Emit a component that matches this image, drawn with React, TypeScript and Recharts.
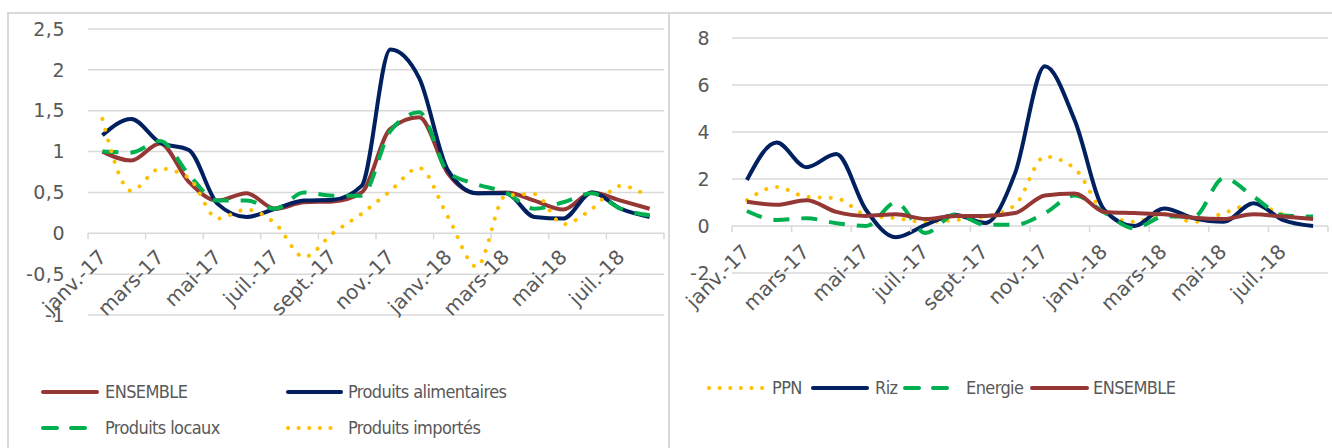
import React from "react";
import { LineChart, Line, XAxis, YAxis, CartesianGrid } from "recharts";

const MONTHS = [
  "janv.-17", "févr.-17", "mars-17", "avr.-17", "mai-17", "juin-17",
  "juil.-17", "août-17", "sept.-17", "oct.-17", "nov.-17", "déc.-17",
  "janv.-18", "févr.-18", "mars-18", "avr.-18", "mai-18", "juin-18",
  "juil.-18", "août-18",
];
const LABEL_TICKS = [0, 2, 4, 6, 8, 10, 12, 14, 16, 18];

// Graphique de gauche
const ENSEMBLE_L = [1.0, 0.89, 1.1, 0.63, 0.4, 0.49, 0.3, 0.38, 0.39, 0.5, 1.28, 1.42, 0.73, 0.49, 0.5, 0.4, 0.29, 0.5, 0.4, 0.3];
const ALIMENTAIRES = [1.2, 1.4, 1.11, 1.02, 0.36, 0.2, 0.3, 0.4, 0.41, 0.58, 2.25, 1.9, 0.77, 0.49, 0.49, 0.2, 0.18, 0.5, 0.3, 0.2];
const LOCAUX = [1.0, 0.99, 1.13, 0.72, 0.4, 0.4, 0.3, 0.5, 0.46, 0.46, 1.25, 1.48, 0.75, 0.6, 0.5, 0.3, 0.38, 0.49, 0.3, 0.22];
const IMPORTES = [1.4, 0.52, 0.79, 0.68, 0.18, 0.29, 0.12, -0.29, 0.0, 0.24, 0.52, 0.8, 0.2, -0.41, 0.46, 0.48, 0.11, 0.3, 0.58, 0.44];
const LEFT_Y_TICKS = [-1, -0.5, 0, 0.5, 1, 1.5, 2, 2.5];

// Graphique de droite
const PPN = [1.1, 1.66, 1.24, 1.18, 0.47, 0.33, 0.17, 0.25, 0.4, 0.89, 2.95, 2.45, 0.57, 0.18, 0.5, 0.17, 0.55, 0.93, 0.5, 0.28];
const RIZ = [1.96, 3.55, 2.5, 3.06, 0.68, -0.48, 0.05, 0.47, 0.13, 2.25, 6.8, 4.5, 0.68, 0.0, 0.75, 0.33, 0.18, 0.97, 0.25, 0.0];
const ENERGIE = [0.64, 0.26, 0.33, 0.12, 0.0, 1.0, -0.3, 0.5, 0.05, 0.05, 0.55, 1.3, 0.57, -0.1, 0.4, 0.4, 2.04, 1.25, 0.45, 0.4];
const ENSEMBLE_R = [1.03, 0.9, 1.1, 0.6, 0.43, 0.5, 0.3, 0.43, 0.43, 0.55, 1.3, 1.38, 0.6, 0.55, 0.5, 0.35, 0.3, 0.5, 0.4, 0.3];
const RIGHT_Y_TICKS = [-2, 0, 2, 4, 6, 8];

const leftData = MONTHS.map((m, i) => ({
  i,
  mois: m,
  ensemble: ENSEMBLE_L[i],
  alimentaires: ALIMENTAIRES[i],
  locaux: LOCAUX[i],
  importes: IMPORTES[i],
}));

const rightData = MONTHS.map((m, i) => ({
  i,
  mois: m,
  ppn: PPN[i],
  riz: RIZ[i],
  energie: ENERGIE[i],
  ensemble: ENSEMBLE_R[i],
}));

const BROWN = "#953735";
const NAVY = "#002060";
const GREEN = "#00B050";
const YELLOW = "#FFC000";
const GRID = "#d9d9d9";
const TEXT = "#595959";
const TICK_FONT = "'DejaVu Sans', sans-serif";
const LEGEND_FONT = "'DejaVu Sans Condensed', 'Liberation Sans Narrow', sans-serif";

const DASH = "16 12";
const DOTS = "0.1 11";

function makeMonthTick(zeroY: number, band: number, dx: number, dy: number) {
  return function MonthTick(props: any) {
    const { x, payload, index } = props;
    const half = band / 2;
    const tx = x + dx;
    const ty = zeroY + dy;
    return (
      <g>
        <line x1={x - half} x2={x - half} y1={zeroY} y2={zeroY + 6} stroke={GRID} strokeWidth={1.5} />
        {index === LABEL_TICKS.length - 1 && (
          <line x1={x + 3 * half} x2={x + 3 * half} y1={zeroY} y2={zeroY + 6} stroke={GRID} strokeWidth={1.5} />
        )}
        <text
          x={tx}
          y={ty}
          transform={`rotate(-45 ${tx} ${ty})`}
          textAnchor="end"
          fill={TEXT}
          fontSize={20}
          fontFamily={TICK_FONT}
        >
          {MONTHS[payload.value]}
        </text>
      </g>
    );
  };
}

const fmt = (v: number) => String(v).replace(".", ",");

type Kind = "solid" | "dash" | "dot";

function LegendItem({ x1, x2, textX, y, kind, color, label }: { x1: number; x2: number; textX: number; y: number; kind: Kind; color: string; label: string }) {
  const w = x2 - x1;
  const dash = kind === "dash" ? "14 14" : kind === "dot" ? "0.1 10.5" : undefined;
  return (
    <>
      <svg width={w + 4} height={10} style={{ position: "absolute", left: x1 - 2, top: y - 5 }}>
        <line x1={2} x2={w + 2} y1={5} y2={5} stroke={color} strokeWidth={4} strokeLinecap="round" strokeDasharray={dash} />
      </svg>
      <span
        style={{
          position: "absolute",
          left: textX,
          top: y - 13,
          lineHeight: "26px",
          fontFamily: LEGEND_FONT,
          fontSize: 18,
          letterSpacing: -0.6,
          color: TEXT,
          whiteSpace: "nowrap",
        }}
      >
        {label}
      </span>
    </>
  );
}

export default function App() {
  const leftTop = 29;
  const leftH = 286;
  const leftZero = leftTop + (leftH * 2.5) / 3.5;
  const rightTop = 38;
  const rightH = 235;
  const rightZero = rightTop + (rightH * 8) / 10;

  const LeftTick = makeMonthTick(leftZero, 576 / 20, 5, 25);
  const RightTick = makeMonthTick(rightZero, 596 / 20, 4, 27);

  return (
    <div
      style={{
        position: "absolute",
        left: 0,
        top: 0,
        width: 1332,
        height: 448,
        background: "#fff",
        overflow: "hidden",
      }}
    >
      <div
        style={{
          position: "absolute",
          left: 7,
          top: 12,
          width: 662,
          height: 450,
          borderLeft: `2px solid ${GRID}`,
          borderTop: `2px solid ${GRID}`,
          boxSizing: "border-box",
        }}
      />
      <div
        style={{
          position: "absolute",
          left: 668,
          top: 12,
          width: 680,
          height: 450,
          borderLeft: `2px solid ${GRID}`,
          borderTop: `2px solid ${GRID}`,
          boxSizing: "border-box",
        }}
      />

      {/* Graphique de gauche */}
      <div style={{ position: "absolute", left: 0, top: 0 }}>
        <LineChart
          width={670}
          height={340}
          data={leftData}
          margin={{ top: leftTop, right: 6, bottom: 5, left: 28 }}
          style={{ overflow: "visible" }}
        >
          <CartesianGrid horizontal vertical={false} stroke={GRID} strokeWidth={1.5} />
          <XAxis
            dataKey="i"
            type="number"
            domain={[-0.5, 19.5]}
            ticks={LABEL_TICKS}
            interval={0}
            height={20}
            axisLine={false}
            tickLine={false}
            tick={<LeftTick />}
          />
          <YAxis
            domain={[-1, 2.5]}
            ticks={LEFT_Y_TICKS}
            interval={0}
            width={60}
            axisLine={false}
            tickLine={false}
            tickSize={0}
            tickMargin={23}
            tickFormatter={fmt}
            tick={{ fill: TEXT, fontSize: 19, fontFamily: TICK_FONT, letterSpacing: 0.5 }}
          />
          <Line type="monotone" dataKey="ensemble" stroke={BROWN} strokeWidth={4} dot={false} isAnimationActive={false} />
          <Line type="monotone" dataKey="alimentaires" stroke={NAVY} strokeWidth={4} dot={false} isAnimationActive={false} />
          <Line type="monotone" dataKey="locaux" stroke={GREEN} strokeWidth={4} strokeDasharray={DASH} dot={false} isAnimationActive={false} />
          <Line type="monotone" dataKey="importes" stroke={YELLOW} strokeWidth={4} strokeDasharray={DOTS} strokeLinecap="round" dot={false} isAnimationActive={false} />
        </LineChart>
      </div>

      {/* Graphique de droite */}
      <div style={{ position: "absolute", left: 670, top: 0 }}>
        <LineChart
          width={662}
          height={340}
          data={rightData}
          margin={{ top: rightTop, right: 4, bottom: 47, left: 2 }}
          style={{ overflow: "visible" }}
        >
          <CartesianGrid horizontal vertical={false} stroke={GRID} strokeWidth={1.5} />
          <XAxis
            dataKey="i"
            type="number"
            domain={[-0.5, 19.5]}
            ticks={LABEL_TICKS}
            interval={0}
            height={20}
            axisLine={false}
            tickLine={false}
            tick={<RightTick />}
          />
          <YAxis
            domain={[-2, 8]}
            ticks={RIGHT_Y_TICKS}
            interval={0}
            width={60}
            axisLine={false}
            tickLine={false}
            tickSize={0}
            tickMargin={22}
            tick={{ fill: TEXT, fontSize: 19, fontFamily: TICK_FONT, letterSpacing: 0.5 }}
          />
          <Line type="monotone" dataKey="ppn" stroke={YELLOW} strokeWidth={4} strokeDasharray={DOTS} strokeLinecap="round" dot={false} isAnimationActive={false} />
          <Line type="monotone" dataKey="riz" stroke={NAVY} strokeWidth={4} dot={false} isAnimationActive={false} />
          <Line type="monotone" dataKey="energie" stroke={GREEN} strokeWidth={4} strokeDasharray={DASH} dot={false} isAnimationActive={false} />
          <Line type="monotone" dataKey="ensemble" stroke={BROWN} strokeWidth={4} dot={false} isAnimationActive={false} />
        </LineChart>
      </div>

      {/* Légende gauche */}
      <LegendItem x1={43} x2={97} textX={105} y={392} kind="solid" color={BROWN} label="ENSEMBLE" />
      <LegendItem x1={288} x2={341} textX={348} y={392} kind="solid" color={NAVY} label="Produits alimentaires" />
      <LegendItem x1={43} x2={85} textX={105} y={428} kind="dash" color={GREEN} label="Produits locaux" />
      <LegendItem x1={288} x2={340} textX={348} y={428} kind="dot" color={YELLOW} label="Produits importés" />

      {/* Légende droite */}
      <LegendItem x1={709} x2={763} textX={772} y={388} kind="dot" color={YELLOW} label="PPN" />
      <LegendItem x1={813} x2={867} textX={875} y={388} kind="solid" color={NAVY} label="Riz" />
      <LegendItem x1={905} x2={947} textX={966} y={388} kind="dash" color={GREEN} label="Energie" />
      <LegendItem x1={1032} x2={1087} textX={1093} y={388} kind="solid" color={BROWN} label="ENSEMBLE" />
    </div>
  );
}
